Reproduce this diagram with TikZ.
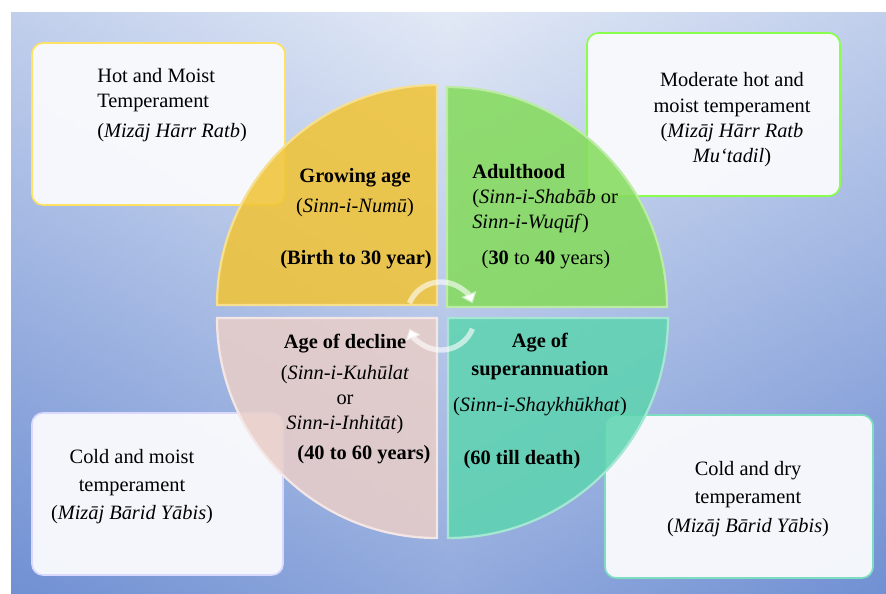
\documentclass[tikz,border=0pt]{standalone}
\usepackage{fontspec}
\setmainfont{Liberation Serif}
\usetikzlibrary{arrows.meta}

\definecolor{bgMid}{HTML}{E2E9F6}
\definecolor{bgSide}{HTML}{8FA8DD}
\definecolor{bgDeep}{HTML}{5D81CD}
\definecolor{paper}{HTML}{F9FAFD}
\definecolor{growC}{HTML}{F1C435}
\definecolor{adultC}{HTML}{84DB5B}
\definecolor{declC}{HTML}{E9CEC8}
\definecolor{superC}{HTML}{5DD4B0}

\begin{document}
\begin{tikzpicture}[
  x=0.025cm, y=0.025cm,
  font=\fontsize{14.5}{18}\selectfont,
  tbox/.style={draw, line width=1.2pt, rounded corners=8pt, fill=paper, fill opacity=0.96},
  ttext/.style={align=center, inner sep=0pt},
  quad/.style={line width=1.6pt, fill opacity=0.86},
  cyc/.style={-{Triangle[width=11pt,length=7pt]}, white, line width=3.8pt, draw opacity=0.6}
]
\useasboundingbox (0,0) rectangle (886,593);

% backdrop
\shade[left color=bgSide, right color=bgSide, middle color=bgMid] (11,0) rectangle (886,580);
\shade[top color=bgMid, bottom color=bgDeep, opacity=0.6] (11,0) rectangle (886,580);

% temperament boxes
\node[tbox, draw=yellow!70!orange!60, minimum width=6.325cm, minimum height=4.05cm] (hotbox) at (158.5,469) {};
\node[tbox, draw=green!55!lime!70, minimum width=6.325cm, minimum height=4.075cm] (modbox) at (713.5,478.5) {};
\node[tbox, draw=white!85!blue, minimum width=6.275cm, minimum height=4.05cm] (moistbox) at (157.5,99) {};
\node[tbox, draw=superC!80, minimum width=6.7cm, minimum height=4.075cm] (drybox) at (739,96.5) {};

\node[ttext, align=left, anchor=west] (hottxt) at (97,488)
  {Hot and Moist\\Temperament\\[3pt](\textit{Mizāj Hārr Ratb})};
\node[ttext] (modtxt) at (732,473)
  {Moderate hot and\\moist temperament\\(\textit{Mizāj Hārr Ratb}\\\textit{Mu‘tadil})};
\node[ttext] (moisttxt) at (132,106.5)
  {Cold and moist\\[2pt]temperament\\[2pt](\textit{Mizāj Bārid Yābis})};
\node[ttext] (drytxt) at (748,94)
  {Cold and dry\\[2pt]temperament\\[3pt](\textit{Mizāj Bārid Yābis})};

% four quarters of the life cycle
\draw[quad, fill=growC, draw=growC!55!white]
  (437,288) -- (217,288) arc[start angle=180, end angle=90, radius=220] -- cycle;
\draw[quad, fill=adultC, draw=adultC!55!white]
  (447,286) -- (447,506) arc[start angle=90, end angle=0, radius=220] -- cycle;
\draw[quad, fill=declC, draw=declC!50!white]
  (437,275) -- (217,275) arc[start angle=180, end angle=270, radius=220] -- cycle;
\draw[quad, fill=superC, draw=superC!55!white]
  (448,275) -- (448,55) arc[start angle=270, end angle=360, radius=220] -- cycle;

\node[ttext] (grow) at (355,400.5)
  {\textbf{Growing age}\\[3pt](\textit{Sinn-i-Numū})};
\node[ttext] (growage) at (356,333) {\textbf{(Birth to 30 year)}};

\node[ttext, align=left, anchor=west] (adult) at (472,394.5)
  {\textbf{Adulthood}\\(\textit{Sinn-i-Shabāb} or\\\textit{Sinn-i-Wuqūf})};
\node[ttext] (adultage) at (546,333) {(\textbf{30} to \textbf{40} years)};

\node[ttext] (decl) at (345,209)
  {\textbf{Age of decline}\\[4pt](\textit{Sinn-i-Kuhūlat}\\or\\\textit{Sinn-i-Inhitāt})};
\node[ttext] (declage) at (364,138) {\textbf{(40 to 60 years)}};

\node[ttext] (super) at (540,218.5)
  {\textbf{Age of}\\[2pt]\textbf{superannuation}\\[8pt](\textit{Sinn-i-Shaykhūkhat})};
\node[ttext] (superage) at (522,133) {\textbf{(60 till death)}};

% cycle arrows
\coordinate (hub) at (441,277);
\draw[cyc] (hub) ++(158:34) arc[start angle=158, end angle=22, radius=34];
\draw[cyc] (hub) ++(-22:34) arc[start angle=-22, end angle=-158, radius=34];
\end{tikzpicture}
\end{document}
